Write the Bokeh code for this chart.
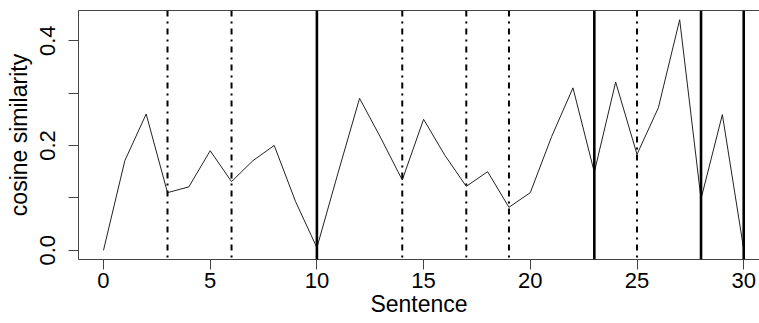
from bokeh.plotting import figure
from bokeh.models import Span, FixedTicker, LinearAxis, Range1d
from bokeh.embed import file_html
from bokeh.resources import INLINE

sentence = list(range(31))
similarity = [0.0, 0.171, 0.260, 0.110, 0.121, 0.190, 0.131, 0.171, 0.200, 0.093,
              0.005, 0.149, 0.290, 0.214, 0.134, 0.250, 0.181, 0.122, 0.150, 0.082,
              0.110, 0.217, 0.310, 0.149, 0.321, 0.183, 0.272, 0.440, 0.098, 0.259,
              0.002]
minor_boundaries = [3, 6, 14, 17, 19, 25]
major_boundaries = [10, 23, 28, 30]
x_ticks = [0, 5, 10, 15, 20, 25, 30]
y_ticks = [0.0, 0.1, 0.2, 0.3, 0.4]
y_tick_labels = {0.0: "0.0", 0.1: "", 0.2: "0.2", 0.3: "", 0.4: "0.4"}
x_title = "Sentence"
y_title = "cosine similarity"

FONT = "Liberation Sans"

p = figure(width=759, height=323, output_backend="svg", toolbar_location=None,
           x_range=Range1d(-1.171, 30.74), y_range=Range1d(-0.0176, 0.4576),
           min_border_left=78, min_border_right=0, min_border_top=10, min_border_bottom=64,
           x_axis_label=x_title, y_axis_label=y_title)
p.outline_line_color = None
p.grid.visible = False
p.background_fill_color = "white"
p.border_fill_color = "white"

for loc in minor_boundaries:
    p.add_layout(Span(location=loc, dimension="height", line_color="black",
                      line_width=2, line_dash="6 5 2 5"))
for loc in major_boundaries:
    p.add_layout(Span(location=loc, dimension="height", line_color="black",
                      line_width=2.6))

p.line(sentence, similarity, line_color="#222222", line_width=1)

xa = p.xaxis[0]
xa.ticker = FixedTicker(ticks=x_ticks)
ya = p.yaxis[0]
ya.ticker = FixedTicker(ticks=y_ticks)
ya.major_label_overrides = y_tick_labels
ya.major_label_orientation = "vertical"

for ax in (xa, ya):
    ax.axis_line_color = "#444444"
    ax.axis_line_width = 1
    ax.major_tick_line_color = "#444444"
    ax.major_tick_in = 0
    ax.major_tick_out = 10
    ax.minor_tick_line_color = None
    ax.major_label_text_font = FONT
    ax.major_label_text_font_size = "22px"
    ax.major_label_text_color = "black"
    ax.axis_label_text_font = FONT
    ax.axis_label_text_font_size = "23px"
    ax.axis_label_text_font_style = "normal"
    ax.axis_label_text_color = "black"

xa.major_label_standoff = 3
xa.axis_label_standoff = 0
ya.major_label_standoff = 13
ya.axis_label_standoff = 6

top = LinearAxis(major_tick_line_color=None, minor_tick_line_color=None,
                 major_tick_out=0, major_label_standoff=0,
                 major_label_text_font_size="0px", axis_line_color="#444444")
top.major_label_text_color = None
p.add_layout(top, "above")

open("out.html", "w").write(file_html(p, INLINE))
